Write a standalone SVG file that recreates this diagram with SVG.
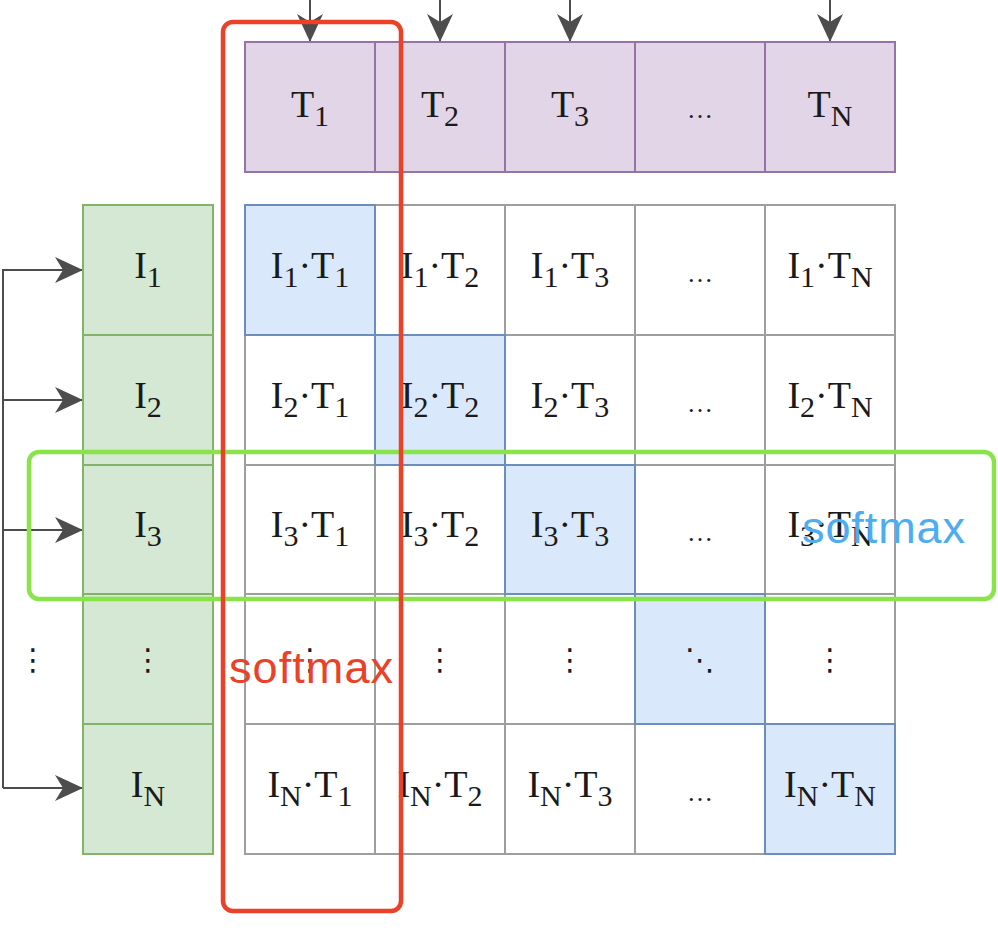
<svg xmlns="http://www.w3.org/2000/svg" width="998" height="930" viewBox="0 0 998 930">
<defs>
<marker id="ah" viewBox="0 0 28 26" refX="28" refY="13" markerWidth="28" markerHeight="26" markerUnits="userSpaceOnUse" orient="auto">
<path d="M0,0 L28,13 L0,26 L8,13 z" fill="#4d4d4d"/>
</marker>
</defs>
<style>
.t{font-family:"Liberation Serif","Times New Roman",serif;font-size:38px;fill:#1a1a1a;text-anchor:middle}
.s{font-size:30px}
.el{font-family:"Liberation Serif",serif;font-size:26px;fill:#1a1a1a;text-anchor:middle}
.vd{font-family:"DejaVu Sans",sans-serif;font-size:30px;fill:#1a1a1a;text-anchor:middle}
.pu{fill:#e1d5e7;stroke:#9673a6;stroke-width:2}
.gr{fill:#d5e8d4;stroke:#82b366;stroke-width:2}
.wh{fill:#ffffff;stroke:#9e9e9e;stroke-width:2}
.bl{fill:#dae8fc;stroke:#6c8ebf;stroke-width:2}
.cn{fill:none;stroke:#4d4d4d;stroke-width:2}
.sm{font-family:"Liberation Sans",Arial,sans-serif;font-size:45px}
</style>
<rect width="998" height="930" fill="#ffffff"/>

<g id="connectors">
<path class="cn" d="M310,0 V42" marker-end="url(#ah)"/>
<path class="cn" d="M440,0 V42" marker-end="url(#ah)"/>
<path class="cn" d="M570,0 V42" marker-end="url(#ah)"/>
<path class="cn" d="M830,0 V42" marker-end="url(#ah)"/>
<path class="cn" d="M3,788 V270 H83" marker-end="url(#ah)"/>
<path class="cn" d="M3,400 H83" marker-end="url(#ah)"/>
<path class="cn" d="M3,530 H83" marker-end="url(#ah)"/>
<path class="cn" d="M3,788 H83" marker-end="url(#ah)"/>
</g>

<g id="text-row">
<g id="T1"><rect class="pu" x="245" y="42" width="130" height="130"/><text class="t" x="310" y="117">T<tspan class="s" dy="9">1</tspan></text></g>
<g id="T2"><rect class="pu" x="375" y="42" width="130" height="130"/><text class="t" x="440" y="117">T<tspan class="s" dy="9">2</tspan></text></g>
<g id="T3"><rect class="pu" x="505" y="42" width="130" height="130"/><text class="t" x="570" y="117">T<tspan class="s" dy="9">3</tspan></text></g>
<g id="Tdots"><rect class="pu" x="635" y="42" width="130" height="130"/><text class="el" x="700" y="118">…</text></g>
<g id="TN"><rect class="pu" x="765" y="42" width="130" height="130"/><text class="t" x="830" y="117">T<tspan class="s" dy="9">N</tspan></text></g>
</g>

<g id="image-col">
<g id="I1"><rect class="gr" x="83" y="205" width="130" height="130"/><text class="t" x="148" y="278">I<tspan class="s" dy="9">1</tspan></text></g>
<g id="I2"><rect class="gr" x="83" y="335" width="130" height="130"/><text class="t" x="148" y="408">I<tspan class="s" dy="9">2</tspan></text></g>
<g id="I3"><rect class="gr" x="83" y="465" width="130" height="129"/><text class="t" x="148" y="537">I<tspan class="s" dy="9">3</tspan></text></g>
<g id="Idots"><rect class="gr" x="83" y="594" width="130" height="130"/><text class="vd" x="148" y="670">⋮</text></g>
<g id="IN"><rect class="gr" x="83" y="724" width="130" height="130"/><text class="t" x="148" y="797">I<tspan class="s" dy="9">N</tspan></text></g>
</g>

<g id="left-dots"><text class="vd" x="33" y="670">⋮</text></g>

<g id="matrix">
<g id="c11"><rect class="wh" x="245" y="205" width="130" height="130"/></g>
<g id="c12"><rect class="wh" x="375" y="205" width="130" height="130"/><text class="t" x="440" y="278">I<tspan class="s" dy="9">1</tspan><tspan dy="-9">·T</tspan><tspan class="s" dy="9">2</tspan></text></g>
<g id="c13"><rect class="wh" x="505" y="205" width="130" height="130"/><text class="t" x="570" y="278">I<tspan class="s" dy="9">1</tspan><tspan dy="-9">·T</tspan><tspan class="s" dy="9">3</tspan></text></g>
<g id="c14"><rect class="wh" x="635" y="205" width="130" height="130"/><text class="el" x="700" y="282">…</text></g>
<g id="c15"><rect class="wh" x="765" y="205" width="130" height="130"/><text class="t" x="830" y="278">I<tspan class="s" dy="9">1</tspan><tspan dy="-9">·T</tspan><tspan class="s" dy="9">N</tspan></text></g>

<g id="c21"><rect class="wh" x="245" y="335" width="130" height="130"/><text class="t" x="310" y="408">I<tspan class="s" dy="9">2</tspan><tspan dy="-9">·T</tspan><tspan class="s" dy="9">1</tspan></text></g>
<g id="c23"><rect class="wh" x="505" y="335" width="130" height="130"/><text class="t" x="570" y="408">I<tspan class="s" dy="9">2</tspan><tspan dy="-9">·T</tspan><tspan class="s" dy="9">3</tspan></text></g>
<g id="c24"><rect class="wh" x="635" y="335" width="130" height="130"/><text class="el" x="700" y="412">…</text></g>
<g id="c25"><rect class="wh" x="765" y="335" width="130" height="130"/><text class="t" x="830" y="408">I<tspan class="s" dy="9">2</tspan><tspan dy="-9">·T</tspan><tspan class="s" dy="9">N</tspan></text></g>

<g id="c31"><rect class="wh" x="245" y="465" width="130" height="129"/><text class="t" x="310" y="537">I<tspan class="s" dy="9">3</tspan><tspan dy="-9">·T</tspan><tspan class="s" dy="9">1</tspan></text></g>
<g id="c32"><rect class="wh" x="375" y="465" width="130" height="129"/><text class="t" x="440" y="537">I<tspan class="s" dy="9">3</tspan><tspan dy="-9">·T</tspan><tspan class="s" dy="9">2</tspan></text></g>
<g id="c34"><rect class="wh" x="635" y="465" width="130" height="129"/><text class="el" x="700" y="541">…</text></g>
<g id="c35"><rect class="wh" x="765" y="465" width="130" height="129"/><text class="t" x="830" y="537">I<tspan class="s" dy="9">3</tspan><tspan dy="-9">·T</tspan><tspan class="s" dy="9">N</tspan></text></g>

<g id="c41"><rect class="wh" x="245" y="594" width="130" height="130"/><text class="vd" x="310" y="670">⋮</text></g>
<g id="c42"><rect class="wh" x="375" y="594" width="130" height="130"/><text class="vd" x="440" y="670">⋮</text></g>
<g id="c43"><rect class="wh" x="505" y="594" width="130" height="130"/><text class="vd" x="570" y="670">⋮</text></g>
<g id="c45"><rect class="wh" x="765" y="594" width="130" height="130"/><text class="vd" x="830" y="670">⋮</text></g>

<g id="c51"><rect class="wh" x="245" y="724" width="130" height="130"/><text class="t" x="310" y="797">I<tspan class="s" dy="9">N</tspan><tspan dy="-9">·T</tspan><tspan class="s" dy="9">1</tspan></text></g>
<g id="c52"><rect class="wh" x="375" y="724" width="130" height="130"/><text class="t" x="440" y="797">I<tspan class="s" dy="9">N</tspan><tspan dy="-9">·T</tspan><tspan class="s" dy="9">2</tspan></text></g>
<g id="c53"><rect class="wh" x="505" y="724" width="130" height="130"/><text class="t" x="570" y="797">I<tspan class="s" dy="9">N</tspan><tspan dy="-9">·T</tspan><tspan class="s" dy="9">3</tspan></text></g>
<g id="c54"><rect class="wh" x="635" y="724" width="130" height="130"/><text class="el" x="700" y="801">…</text></g>

<g id="d11"><rect class="bl" x="245" y="205" width="130" height="130"/><text class="t" x="310" y="278">I<tspan class="s" dy="9">1</tspan><tspan dy="-9">·T</tspan><tspan class="s" dy="9">1</tspan></text></g>
<g id="d22"><rect class="bl" x="375" y="335" width="130" height="130"/><text class="t" x="440" y="408">I<tspan class="s" dy="9">2</tspan><tspan dy="-9">·T</tspan><tspan class="s" dy="9">2</tspan></text></g>
<g id="d33"><rect class="bl" x="505" y="465" width="130" height="129"/><text class="t" x="570" y="537">I<tspan class="s" dy="9">3</tspan><tspan dy="-9">·T</tspan><tspan class="s" dy="9">3</tspan></text></g>
<g id="d44"><rect class="bl" x="635" y="594" width="130" height="130"/><text class="vd" x="700" y="670">⋱</text></g>
<g id="d55"><rect class="bl" x="765" y="724" width="130" height="130"/><text class="t" x="830" y="797">I<tspan class="s" dy="9">N</tspan><tspan dy="-9">·T</tspan><tspan class="s" dy="9">N</tspan></text></g>
</g>

<g id="row-softmax">
<rect x="29" y="452" width="965" height="147" rx="10" fill="none" stroke="#88e448" stroke-width="4.5"/>
<text class="sm" x="802" y="543" fill="#4dadf0" textLength="163">softmax</text>
</g>
<g id="col-softmax">
<rect x="223" y="22" width="178" height="889" rx="10" fill="none" stroke="#ea4128" stroke-width="4.5"/>
<text class="sm" x="229" y="683" fill="#ea4128" textLength="164">softmax</text>
</g>
</svg>
